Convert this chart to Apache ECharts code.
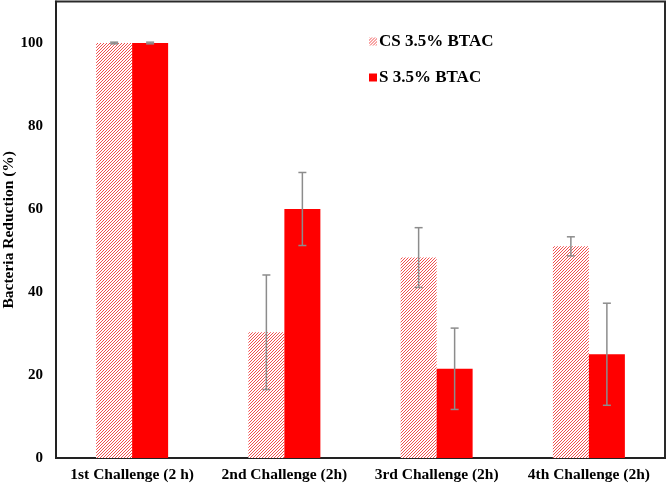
<!DOCTYPE html>
<html><head><meta charset="utf-8">
<script src="https://cdn.jsdelivr.net/npm/echarts@6/dist/echarts.min.js"></script>
<style>html,body{margin:0;padding:0;background:#fff}#c{width:666px;height:483px}</style>
</head><body><div id="c"></div>
<script>
const categories = ['1st Challenge (2 h)', '2nd Challenge (2h)', '3rd Challenge (2h)', '4th Challenge (2h)'];
const csValues = [100, 30.3, 48.3, 51.0];
const csErrors = [0.2, 13.8, 7.2, 2.3];
const sValues = [100, 60.0, 21.5, 25.0];
const sErrors = [0.2, 8.8, 9.8, 12.3];
const seriesNames = ['CS 3.5% BTAC', 'S 3.5% BTAC'];
const yTicks = [0, 20, 40, 60, 80, 100];

const FONT = '"Liberation Serif", "Times New Roman", serif';
const BAR_W = 36;

function hatch() {
  const s = 3;
  const c = document.createElement('canvas');
  c.width = s; c.height = s;
  const g = c.getContext('2d');
  g.fillStyle = '#fff'; g.fillRect(0, 0, s, s);
  g.strokeStyle = '#f03a3a'; g.lineWidth = 0.9;
  g.beginPath();
  g.moveTo(-1, s + 1); g.lineTo(s + 1, -1);
  g.moveTo(-1, 1); g.lineTo(1, -1);
  g.moveTo(s - 1, s + 1); g.lineTo(s + 1, s - 1);
  g.stroke();
  return c;
}
const hatchColor = { image: hatch(), repeat: 'repeat' };

function errSeries(vals, errs, side) {
  return {
    type: 'custom',
    z: 10,
    silent: true,
    data: vals.map((v, i) => [i, v - errs[i], v + errs[i]]),
    renderItem: function (params, api) {
      const i = api.value(0);
      const lo = api.coord([i, api.value(1)]);
      const hi = api.coord([i, api.value(2)]);
      const x = lo[0] + side * BAR_W / 2;
      const cap = 4;
      const st = { stroke: '#8c8c8c', lineWidth: 1.5 };
      return {
        type: 'group',
        children: [
          { type: 'line', shape: { x1: x, y1: lo[1], x2: x, y2: hi[1] }, style: st },
          { type: 'line', shape: { x1: x - cap, y1: lo[1], x2: x + cap, y2: lo[1] }, style: st },
          { type: 'line', shape: { x1: x - cap, y1: hi[1], x2: x + cap, y2: hi[1] }, style: st }
        ]
      };
    }
  };
}

const chart = echarts.init(document.getElementById('c'), null, { renderer: 'canvas' });
chart.setOption({
  animation: false,
  backgroundColor: '#fff',
  textStyle: { fontFamily: FONT },
  grid: { left: 56, right: 1, top: 1.5, bottom: 25, show: true, borderColor: '#2a2a2a', borderWidth: 2, containLabel: false, outerBoundsMode: 'none' },
  legend: {
    orient: 'vertical',
    left: 364, top: 28,
    itemWidth: 8, itemHeight: 8, itemGap: 19,
    icon: 'rect',
    data: seriesNames,
    textStyle: { fontFamily: FONT, fontWeight: 'bold', fontSize: 17, color: '#000', padding: [0, 0, 0, -3] }
  },
  xAxis: {
    type: 'category',
    data: categories,
    axisLine: { lineStyle: { color: '#222', width: 2 } },
    axisTick: { show: false },
    axisLabel: { fontFamily: FONT, fontWeight: 'bold', fontSize: 15.5, color: '#000', margin: 9, interval: 0 }
  },
  yAxis: {
    type: 'value',
    min: 0, max: 110, interval: 20,
    name: 'Bacteria Reduction (%)',
    nameLocation: 'middle',
    nameGap: 47,
    nameMoveOverlap: false,
    nameRotate: 90,
    nameTextStyle: { fontFamily: FONT, fontWeight: 'bold', fontSize: 15.5, color: '#000', verticalAlign: 'middle' },
    axisLine: { show: true, lineStyle: { color: '#222', width: 2 } },
    axisTick: { show: false },
    splitLine: { show: false },
    axisLabel: {
      fontFamily: FONT, fontWeight: 'bold', fontSize: 15, color: '#000', margin: 13,
      formatter: v => (yTicks.indexOf(v) >= 0 ? String(v) : '')
    }
  },
  series: [
    { name: seriesNames[0], type: 'bar', data: csValues, barWidth: BAR_W, barGap: '0%', itemStyle: { color: hatchColor } },
    { name: seriesNames[1], type: 'bar', data: sValues, barWidth: BAR_W, barGap: '0%', itemStyle: { color: '#ff0000' } },
    errSeries(csValues, csErrors, -1),
    errSeries(sValues, sErrors, 1)
  ]
});
</script>
</body></html>
